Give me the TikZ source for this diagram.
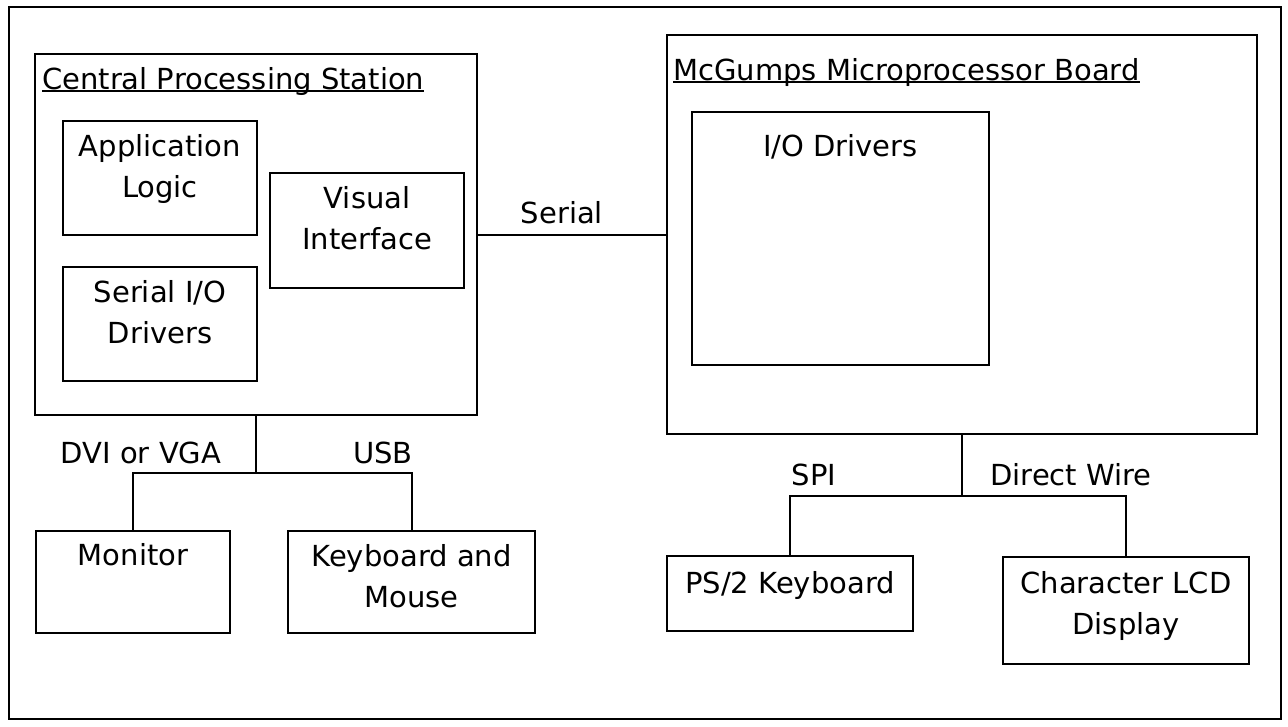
\documentclass[tikz,border=0pt]{standalone}
\usepackage{fontspec}
\setmainfont{DejaVu Sans}
\usetikzlibrary{positioning}
\newcommand{\lblfont}{\fontsize{29pt}{41pt}\selectfont}
\newcommand{\hdline}[1]{\setbox0\hbox{#1}\rlap{\rule[-3pt]{\wd0}{2pt}}\box0}

\tikzset{
  blk/.style 2 args={draw, line width=2pt, minimum width=#1, minimum height=#2, inner sep=0pt, outer sep=0pt},
  blktxt/.style={anchor=north, inner sep=0pt, align=center, font=\lblfont},
  hdtxt/.style={anchor=base west, inner sep=0pt, font=\lblfont},
  wire/.style={line width=2pt},
  wirelbl/.style={anchor=base, inner sep=0pt, font=\lblfont},
}

\begin{document}
\begin{tikzpicture}[x=1pt, y=-1pt]
  \useasboundingbox (0,0) rectangle (1288,726);
  % outer frame
  \draw[line width=2pt] (9,7) rectangle (1281,719);

  % Central Processing Station and its parts
  \node[blk={442pt}{361pt}] (cps) at (256,234.5) {};
  \node[hdtxt] (cps-t) at (42,89) {\hdline{Central Processing Station}};
  \node[blk={194pt}{114pt}, label={[blktxt, yshift=-13pt]north:{Application\\Logic}}] (app) at (160,178) {};
  \node[blk={194pt}{115pt}, label={[blktxt, yshift=-13pt]north:{Visual\\Interface}}] (vis) at (367,230.5) {};
  \node[blk={194pt}{114pt}, label={[blktxt, yshift=-13pt]north:{Serial I/O\\Drivers}}] (sio) at (160,324) {};

  % McGumps board
  \node[blk={590pt}{399pt}] (mcg) at (962,234.5) {};
  \node[hdtxt] (mcg-t) at (673,80) {\hdline{McGumps Microprocessor Board}};
  \node[blk={297pt}{253pt}, label={[blktxt, yshift=-22pt]north:{I/O Drivers}}] (iod) at (840.5,238.5) {};

  % peripherals
  \node[blk={194pt}{102pt}, label={[blktxt, yshift=-12pt]north:{Monitor}}] (mon) at (133,582) {};
  \node[blk={247pt}{102pt}, label={[blktxt, yshift=-13pt]north:{Keyboard and\\Mouse}}] (kbd) at (411.5,582) {};
  \node[blk={246pt}{75pt}, label={[blktxt, yshift=-15pt]north:{PS/2 Keyboard}}] (ps2) at (790,593.5) {};
  \node[blk={246pt}{107pt}, label={[blktxt, yshift=-14pt]north:{Character LCD\\Display}}] (lcd) at (1126,610.5) {};

  % serial link
  \draw[wire] (cps.east) -- (mcg.west);
  \node[wirelbl] (ser-l) at (562,223) {Serial};

  % station to monitor / keyboard
  \coordinate (lhub) at (256,473);
  \draw[wire] (cps.south) -- (lhub);
  \draw[wire] (mon.north) |- (lhub) -| (kbd.north);
  \node[wirelbl] (dvi-l) at (141,463) {DVI or VGA};
  \node[wirelbl] (usb-l) at (383,463) {USB};

  % board to keyboard / display
  \coordinate (rhub) at (962,496);
  \draw[wire] (mcg.south) -- (rhub);
  \draw[wire] (ps2.north) |- (rhub) -| (lcd.north);
  \node[wirelbl] (spi-l) at (814,485) {SPI};
  \node[wirelbl] (dw-l) at (1071,485) {Direct Wire};
\end{tikzpicture}
\end{document}
